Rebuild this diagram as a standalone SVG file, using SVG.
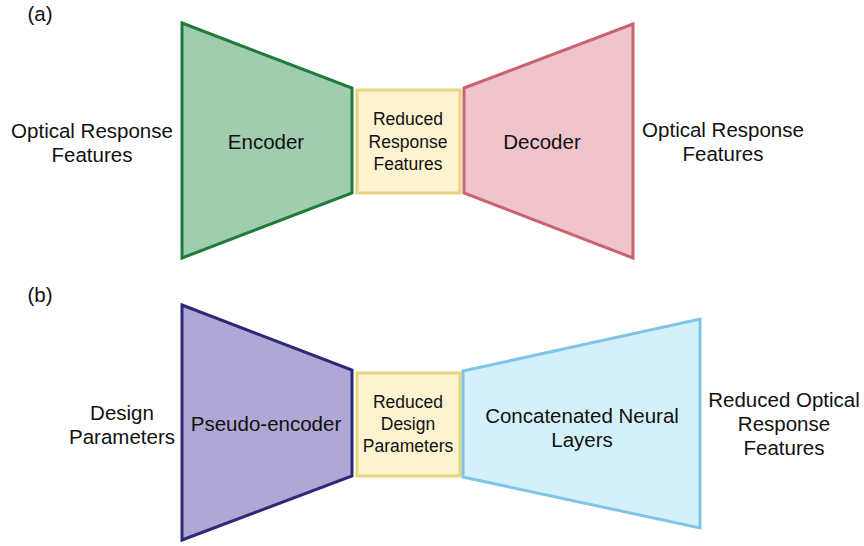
<svg xmlns="http://www.w3.org/2000/svg" width="864" height="546" viewBox="0 0 864 546">
<style>
text{font-family:"Liberation Sans",Arial,sans-serif;fill:#111;text-anchor:middle}
.l{font-size:20.5px}
.s{font-size:17.5px}
.enc{fill:#a0cdb0;stroke:#1e7b39;stroke-width:3}
.dec{fill:#f0c4cd;stroke:#c9646f;stroke-width:3}
.red{fill:#fdf3d0;stroke:#e8d47e;stroke-width:3}
.pse{fill:#b0a8d4;stroke:#2b2a7a;stroke-width:3}
.cat{fill:#d4f0fb;stroke:#80c4e6;stroke-width:3}
</style>
<rect width="864" height="546" fill="#fff"/>
<text class="l" x="40" y="21">(a)</text>
<text class="l" x="40" y="302">(b)</text>
<g id="in-a"><text class="l" x="92" y="138">Optical Response</text><text class="l" x="92" y="162">Features</text></g>
<g id="encoder"><polygon class="enc" points="182,23 352,88 352,193 182,258"/><text class="l" x="266" y="149">Encoder</text></g>
<g id="reduced-a"><rect class="red" x="357" y="90" width="103" height="103"/><text class="s" x="408" y="125">Reduced</text><text class="s" x="408" y="148">Response</text><text class="s" x="408" y="170">Features</text></g>
<g id="decoder"><polygon class="dec" points="464,88 633,24 633,258 464,193"/><text class="l" x="542" y="149">Decoder</text></g>
<g id="out-a"><text class="l" x="723" y="137">Optical Response</text><text class="l" x="723" y="161">Features</text></g>
<g id="in-b"><text class="l" x="122" y="420">Design</text><text class="l" x="122" y="444">Parameters</text></g>
<g id="pseudo-encoder"><polygon class="pse" points="182,305 352,370 352,476 182,540"/><text class="l" x="266" y="431">Pseudo-encoder</text></g>
<g id="reduced-b"><rect class="red" x="357" y="373" width="103" height="103"/><text class="s" x="408" y="408">Reduced</text><text class="s" x="408" y="430">Design</text><text class="s" x="408" y="452">Parameters</text></g>
<g id="concat"><polygon class="cat" points="463,371 700,319 700,528 463,477"/><text class="l" x="582" y="423">Concatenated Neural</text><text class="l" x="582" y="447">Layers</text></g>
<g id="out-b"><text class="l" x="784" y="407">Reduced Optical</text><text class="l" x="784" y="431">Response</text><text class="l" x="784" y="455">Features</text></g>
<g id="connectors"></g>
</svg>
